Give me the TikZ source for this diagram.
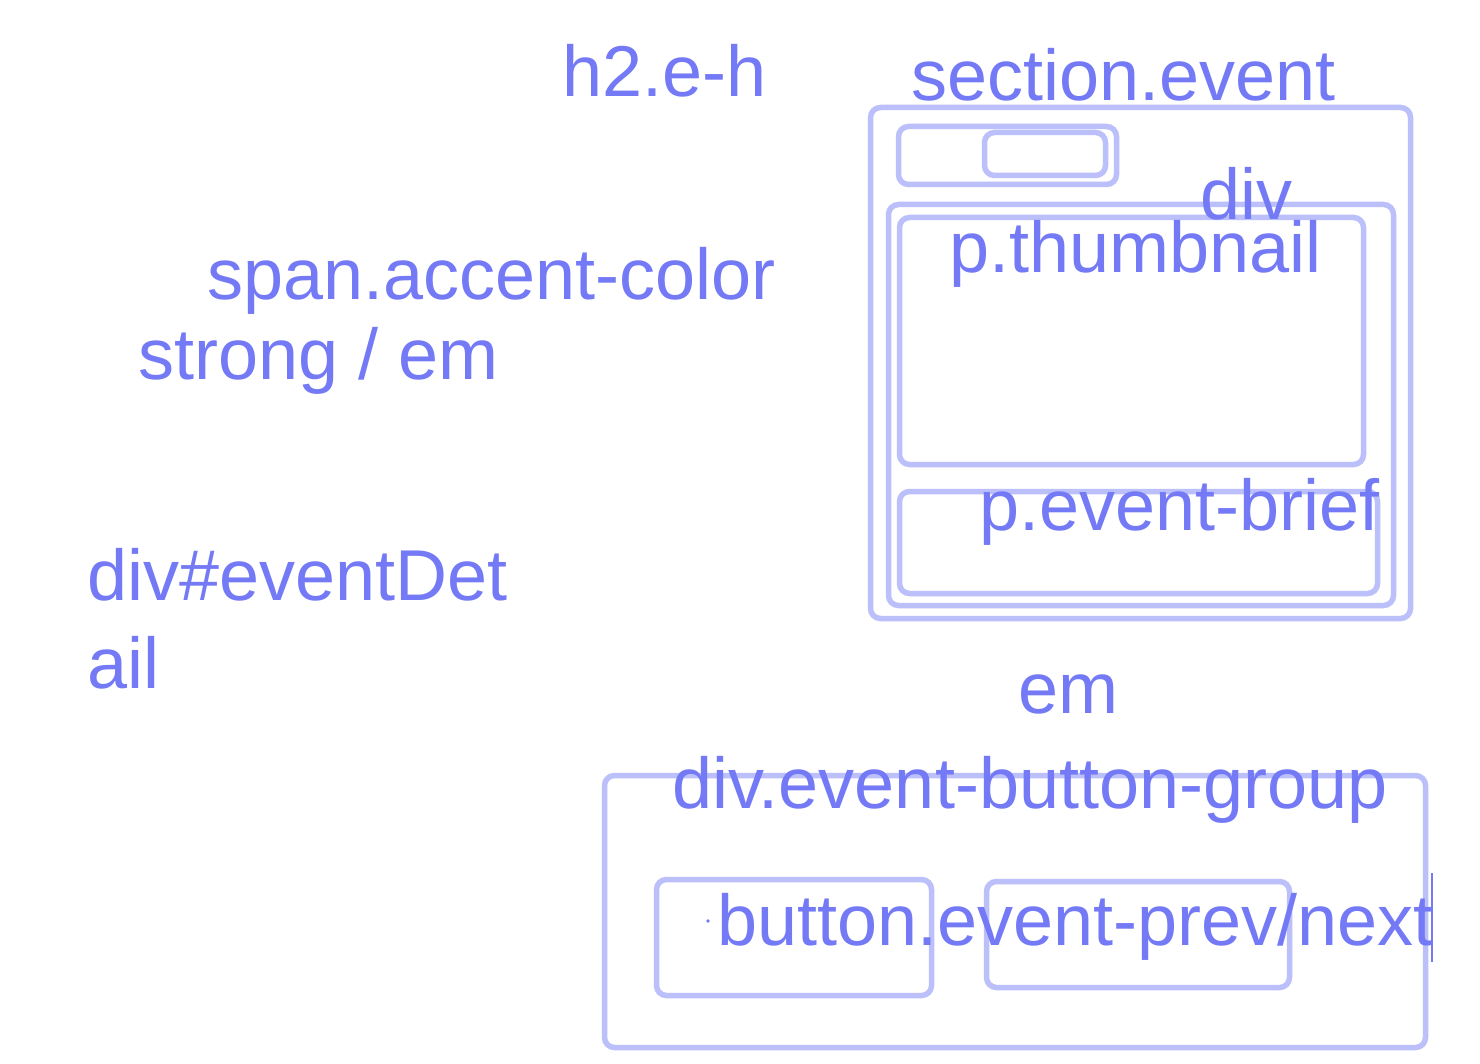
\documentclass[tikz,border=0pt]{standalone}
\usepackage{fontspec}
\setmainfont{Liberation Sans}
\begin{document}
\definecolor{labelc}{RGB}{116,122,246}
\definecolor{framec}{RGB}{188,192,250}
\begin{tikzpicture}[x=1pt,y=-1pt,
  frame/.style={draw=framec,line width=5.5pt,rounded corners=10pt,inner sep=0pt,outer sep=0pt,anchor=north west},
  tag/.style={text=labelc,anchor=base west,inner sep=0pt,font=\fontsize{72}{86}\selectfont}]
  \fill[white] (0,0) rectangle (1480,1064);
  \useasboundingbox (0,0) rectangle (1480,1064);

  % section.event and its nested blocks
  \node[frame,minimum width=540pt,minimum height=511pt] (section) at (870.5,107.5) {};
  \node[frame,minimum width=218pt,minimum height=58pt] (hdr) at (898.5,126.5) {};
  \node[frame,minimum width=121pt,minimum height=43pt] (hdrin) at (984.5,132.5) {};
  \node[frame,minimum width=505pt,minimum height=401pt] (divbox) at (888.5,204.5) {};
  \node[frame,minimum width=464pt,minimum height=247pt] (thumb) at (899.5,217.5) {};
  \node[frame,minimum width=478pt,minimum height=102pt] (brief) at (899.5,491.5) {};

  % button group
  \node[frame,minimum width=821pt,minimum height=272pt] (group) at (604.5,775.5) {};
  \node[frame,minimum width=275pt,minimum height=116pt] (prev) at (656.5,879.5) {};
  \node[frame,minimum width=303pt,minimum height=106pt] (next) at (986.5,881.5) {};
  \coordinate (caretTop) at (1432,873);
  \coordinate (caretBot) at (1432,962);
  \draw[labelc,line width=1.5pt] (caretTop) -- (caretBot);
  \fill[labelc] (708,921) circle (1.8pt);

  % labels
  \node[tag] (h2) at (562,97) {h2.e-h};
  \node[tag] (lsection) at (911,101) {section.event};
  \node[tag] (ldiv) at (1200,220) {div};
  \node[tag] (lthumb) at (949,273) {p.thumbnail};
  \node[tag] (span) at (207,300) {span.accent-color};
  \node[tag] (strong) at (138,380) {strong / em};
  \node[tag] (detail1) at (87,600) {div\#eventDet};
  \node[tag] (detail2) at (87,688) {ail};
  \node[tag] (lbrief) at (979,530) {p.event-brief};
  \node[tag] (em) at (1018,713) {em};
  \node[tag] (lgroup) at (672,808) {div.event-button-group};
  \node[tag] (lbutton) at (717,945) {button.event-prev/next};
\end{tikzpicture}
\end{document}
